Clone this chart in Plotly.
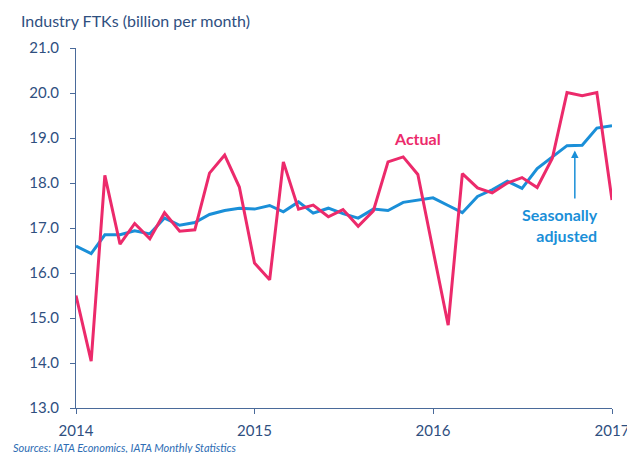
import pandas as pd
import plotly.graph_objects as go

months = pd.date_range("2014-01-01", periods=37, freq="MS")

actual = [
    15.50, 14.04, 18.17, 16.64, 17.10, 16.76, 17.34, 16.93, 16.96, 18.22, 18.62, 17.91,
    16.22, 15.85, 18.47, 17.42, 17.51, 17.25, 17.41, 17.04, 17.38, 18.47, 18.58, 18.19,
    16.51, 14.84, 18.21, 17.89, 17.78, 18.00, 18.12, 17.90, 18.55, 20.01, 19.94, 20.01,
    17.62,
]

seasonally_adjusted = [
    16.60, 16.43, 16.85, 16.85, 16.94, 16.87, 17.22, 17.06, 17.12, 17.30, 17.39, 17.44,
    17.42, 17.50, 17.36, 17.58, 17.33, 17.44, 17.32, 17.22, 17.42, 17.39, 17.57, 17.62,
    17.67, 17.50, 17.34, 17.70, 17.85, 18.04, 17.88, 18.32, 18.58, 18.83, 18.84, 19.22,
    19.27,
]

year_ticks = ["2014-01-01", "2015-01-01", "2016-01-01", "2017-01-01"]
year_labels = ["2014", "2015", "2016", "2017"]

PINK = "#ec2a6b"
BLUE = "#1a8fd8"
AXIS = "#4a6a9a"
TEXT = "#2f4f7f"
FONT = "Lato"

fig = go.Figure()
fig.add_trace(go.Scatter(x=months, y=seasonally_adjusted, mode="lines",
                         line=dict(color=BLUE, width=3), name="Seasonally adjusted"))
fig.add_trace(go.Scatter(x=months, y=actual, mode="lines",
                         line=dict(color=PINK, width=3), name="Actual"))

fig.add_annotation(x="2015-12-01", y=19.0, text="<b>Actual</b>", showarrow=False,
                   font=dict(color=PINK, size=16, family=FONT), xanchor="center")
fig.add_annotation(x="2016-12-08", y=17.55, text="<b>Seasonally<br>adjusted</b>",
                   showarrow=False, align="right", xanchor="right", yanchor="top",
                   font=dict(color=BLUE, size=16, family=FONT))
# arrow pointing at the seasonally adjusted line
fig.add_annotation(x="2016-10-17", y=18.72, ax="2016-10-17", ay=17.62,
                   axref="x", ayref="y", xref="x", yref="y", text="",
                   showarrow=True, arrowhead=2, arrowsize=1, arrowwidth=1.5,
                   arrowcolor=BLUE)

fig.add_annotation(x=0, y=1, xref="paper", yref="paper", xshift=-57, yshift=28,
                   text="Industry FTKs (billion per month)", showarrow=False,
                   xanchor="left", yanchor="middle",
                   font=dict(color=TEXT, size=16, family=FONT))
fig.add_annotation(x=0, y=0, xref="paper", yref="paper", xshift=-65, yshift=-39,
                   text="<i>Sources: IATA Economics, IATA Monthly Statistics</i>",
                   showarrow=False, xanchor="left", yanchor="middle",
                   font=dict(color="#2e6db4", size=11, family=FONT))

fig.update_layout(
    width=627,
    height=453,
    margin=dict(l=76, r=15, t=48, b=45, autoexpand=False),
    paper_bgcolor="white",
    plot_bgcolor="white",
    showlegend=False,
    font=dict(family=FONT, color=TEXT, size=15),
)
fig.update_xaxes(
    range=["2014-01-01", "2017-01-01"],
    tickvals=year_ticks,
    ticktext=year_labels,
    showgrid=False,
    showline=True,
    linecolor=AXIS,
    linewidth=1,
    ticks="outside",
    ticklen=5,
    tickcolor=AXIS,
    ticklabelstandoff=4,
    ticklabeloverflow="allow",
    automargin=False,
    zeroline=False,
)
fig.update_yaxes(
    range=[13, 21],
    dtick=1,
    tickformat=".1f",
    showgrid=False,
    showline=True,
    linecolor=AXIS,
    linewidth=1,
    ticks="outside",
    ticklen=5,
    tickcolor=AXIS,
    ticklabelstandoff=8,
    automargin=False,
    zeroline=False,
)

# drop the default body margin so the figure fills the window exactly
fig.write_html("out.html", config={"displayModeBar": False},
               post_script="document.body.style.margin = '0';")
